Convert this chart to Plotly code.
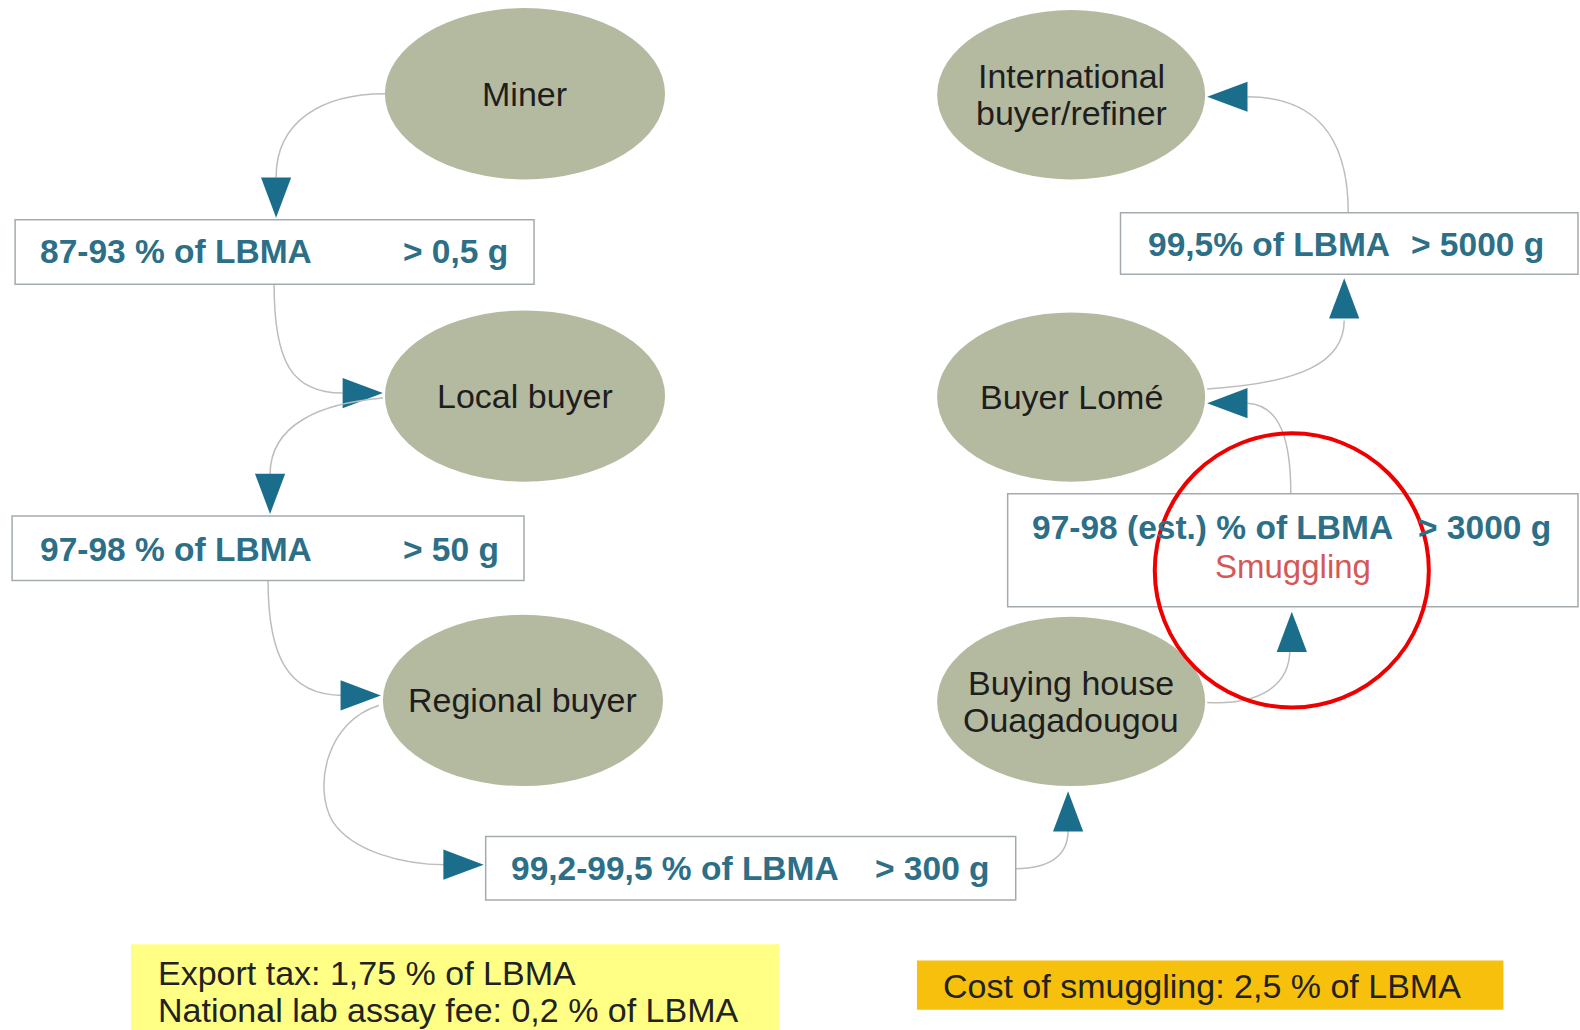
import plotly.graph_objects as go

# ---------------- data (texts) ----------------
node_labels = ["Miner", "Local buyer", "Regional buyer",
               "Buying house\nOuagadougou", "Buyer Lomé", "International\nbuyer/refiner"]
grade_labels = ["87-93 % of LBMA", "97-98 % of LBMA", "99,2-99,5 % of LBMA",
                "97-98 (est.) % of LBMA", "99,5% of LBMA"]
weight_labels = ["> 0,5 g", "> 50 g", "> 300 g", "> 3000 g", "> 5000 g"]
smuggling_label = "Smuggling"
tax_notes = ["Export tax: 1,75 % of LBMA", "National lab assay fee: 0,2 % of LBMA"]
smuggling_note = "Cost of smuggling: 2,5 % of LBMA"

# ---------------- layout geometry (canvas units) ----------------
W, H = 1568, 1022
node_centers = [(521, 93), (521, 393), (519, 695), (1063, 696), (1063, 394), (1063, 94)]
node_radii = [(139, 85), (139, 85), (139, 85), (133, 84), (133, 84), (133, 84)]
box_rects = [(15, 218, 530, 282), (12, 512, 520, 576), (482, 830, 1008, 893),
             (1000, 490, 1566, 602), (1112, 211, 1566, 272)]
grade_xy = [(38, 250), (38, 545), (505, 862), (1022, 523), (1137, 243)]
weight_xy = [(398, 250), (398, 545), (866, 862), (1405, 523), (1398, 243)]
smuggling_xy = (1283, 562)
arrows = [
    ("M 382,93 C 320,93 274,120 274,176", (274, 216), "down"),
    ("M 272,282 C 272,360 290,390 340,390", (380, 390), "right"),
    ("M 380,395 C 320,400 268,420 268,471", (268, 510), "down"),
    ("M 266,576 C 266,650 285,690 340,690", (378, 690), "right"),
    ("M 376,700 C 325,715 310,780 330,815 C 350,845 400,858 442,858", (480, 858), "right"),
    ("M 1008,862 C 1040,862 1060,850 1060,824", (1060, 785), "up"),
    ("M 1198,697 C 1250,700 1280,680 1280,645", (1282, 607), "up"),
    ("M 1281,490 C 1281,440 1272,402 1238,400", (1198, 400), "left"),
    ("M 1198,386 C 1290,380 1334,360 1334,318", (1334, 276), "up"),
    ("M 1338,211 C 1338,130 1300,96 1238,96", (1198, 96), "left"),
]
red_circle = (1282, 566, 136, 136)
yellow_rect = (130, 937, 773, 1030)
orange_rect = (910, 953, 1492, 1002)

ELLIPSE_FILL = "#B4BA9F"
TEAL_TEXT = "#2C6F86"
TEAL_ARROW = "#1A6E8C"
LINE_GRAY = "#BDBDBD"
BOX_LINE = "#A3ABAE"
FONT = "Liberation Sans, Arial, sans-serif"

fig = go.Figure()
fig.add_trace(go.Scatter(x=[0, W], y=[0, H], mode="markers",
                         marker=dict(opacity=0), hoverinfo="skip", showlegend=False))

shapes = []
annotations = []

def tri(tip, d, L=40, hw=15):
    tx, ty = tip
    if d == "down":
        pts = [(tx, ty), (tx - hw, ty - L), (tx + hw, ty - L)]
    elif d == "up":
        pts = [(tx, ty), (tx - hw, ty + L), (tx + hw, ty + L)]
    elif d == "right":
        pts = [(tx, ty), (tx - L, ty - hw), (tx - L, ty + hw)]
    else:
        pts = [(tx, ty), (tx + L, ty - hw), (tx + L, ty + hw)]
    return "M " + " L ".join(f"{x},{y}" for x, y in pts) + " Z"

# connectors
for path, tip, d in arrows:
    shapes.append(dict(type="path", path=path, xref="x", yref="y",
                       line=dict(color=LINE_GRAY, width=1.5)))
    shapes.append(dict(type="path", path=tri(tip, d), xref="x", yref="y",
                       fillcolor=TEAL_ARROW, line=dict(width=0)))

# ellipses + labels
for lab, (cx, cy), (rx, ry) in zip(node_labels, node_centers, node_radii):
    shapes.append(dict(type="circle", xref="x", yref="y",
                       x0=cx - rx, x1=cx + rx, y0=cy - ry, y1=cy + ry,
                       fillcolor=ELLIPSE_FILL, line=dict(width=0)))
    lines = lab.split("\n")
    n = len(lines)
    for i, t in enumerate(lines):
        annotations.append(dict(x=cx, y=cy + (i - (n - 1) / 2) * 37, text=t,
                                xref="x", yref="y", showarrow=False,
                                xanchor="center", yanchor="middle",
                                font=dict(family=FONT, size=34, color="#1E1E1E")))

# grade boxes
for (x0, y0, x1, y1) in box_rects:
    shapes.append(dict(type="rect", xref="x", yref="y", x0=x0, y0=y0, x1=x1, y1=y1,
                       fillcolor="white", line=dict(color=BOX_LINE, width=1.5)))
for g, (gx, gy) in zip(grade_labels, grade_xy):
    annotations.append(dict(x=gx, y=gy, text=f"<b>{g}</b>", xref="x", yref="y",
                            showarrow=False, xanchor="left", yanchor="middle",
                            font=dict(family=FONT, size=33.5, color=TEAL_TEXT)))
for w_, (wx, wy) in zip(weight_labels, weight_xy):
    annotations.append(dict(x=wx, y=wy, text=f"<b>{w_}</b>", xref="x", yref="y",
                            showarrow=False, xanchor="left", yanchor="middle",
                            font=dict(family=FONT, size=33.5, color=TEAL_TEXT)))
annotations.append(dict(x=smuggling_xy[0], y=smuggling_xy[1], text=smuggling_label,
                        xref="x", yref="y", showarrow=False, xanchor="center",
                        yanchor="middle", font=dict(family=FONT, size=33, color="#D65757")))

# red highlight circle
cx, cy, rx, ry = red_circle
shapes.append(dict(type="circle", xref="x", yref="y", layer="above",
                   x0=cx - rx, x1=cx + rx, y0=cy - ry, y1=cy + ry,
                   line=dict(color="#EE0000", width=4)))

# notes
x0, y0, x1, y1 = yellow_rect
shapes.append(dict(type="rect", xref="x", yref="y", x0=x0, y0=y0, x1=x1, y1=y1,
                   fillcolor="#FFFF85", line=dict(width=0), layer="below"))
for i, t in enumerate(tax_notes):
    annotations.append(dict(x=155, y=965 + i * 37, text=t, xref="x", yref="y",
                            showarrow=False, xanchor="left", yanchor="middle",
                            font=dict(family=FONT, size=34, color="#222222")))
x0, y0, x1, y1 = orange_rect
shapes.append(dict(type="rect", xref="x", yref="y", x0=x0, y0=y0, x1=x1, y1=y1,
                   fillcolor="#F6C00C", line=dict(width=0), layer="below"))
annotations.append(dict(x=934, y=978, text=smuggling_note, xref="x", yref="y",
                        showarrow=False, xanchor="left", yanchor="middle",
                        font=dict(family=FONT, size=34, color="#222222")))

fig.update_layout(
    width=1580, height=1030, margin=dict(l=0, r=0, t=0, b=0),
    paper_bgcolor="white", plot_bgcolor="white",
    xaxis=dict(range=[0, W], visible=False, fixedrange=True),
    yaxis=dict(range=[H, 0], visible=False, fixedrange=True),
    shapes=shapes, annotations=annotations, showlegend=False,
)
fig.write_html("out.html", config={"displayModeBar": False},
               post_script="document.body.style.margin='0';document.body.style.overflow='hidden';")
